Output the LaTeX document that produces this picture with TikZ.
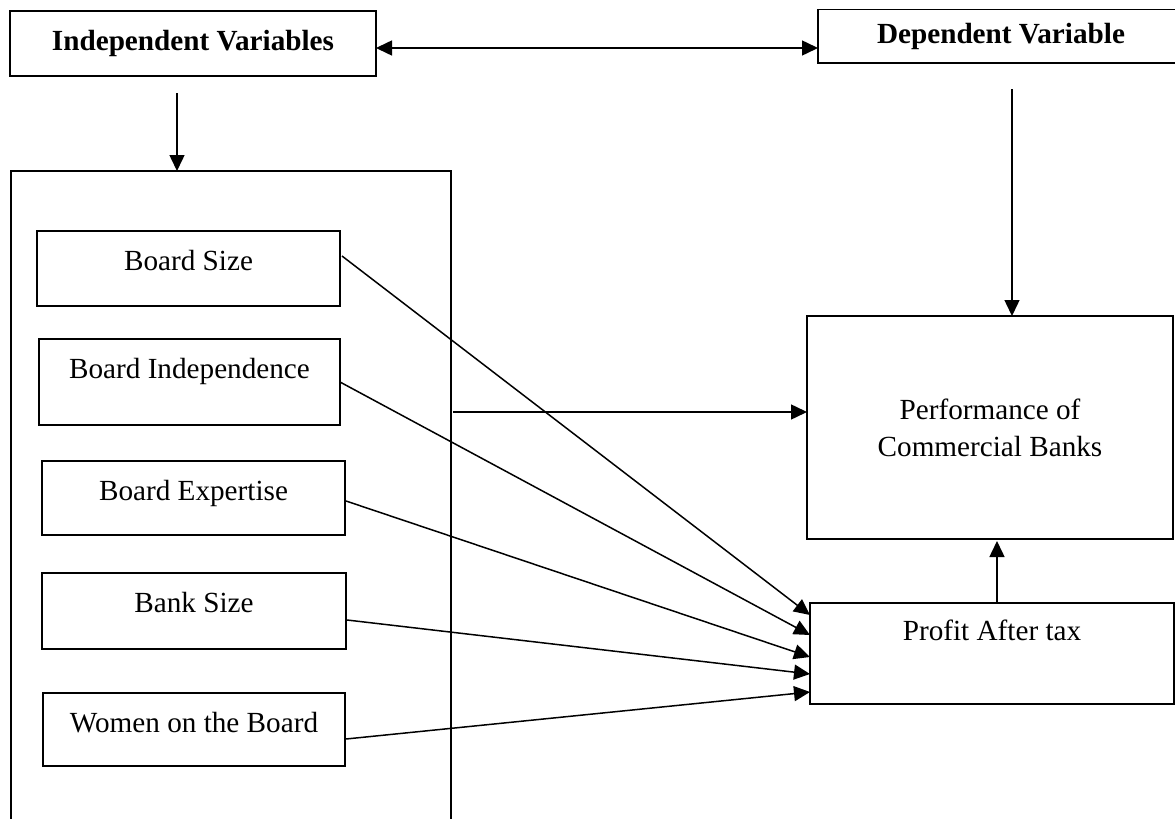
\documentclass[tikz,border=0pt]{standalone}
\usepackage{fontspec}
\setmainfont{Liberation Serif}
\usetikzlibrary{arrows.meta}
\begin{document}
\begin{tikzpicture}[x=0.5pt,y=-0.5pt,
  box/.style={draw=black, line width=0.95pt, inner sep=0pt, outer sep=0pt},
  lbl/.style={inner sep=0pt, anchor=base, font=\fontsize{14.6}{18.5}\selectfont},
  blbl/.style={inner sep=0pt, font=\fontsize{14.6}{18.5}\selectfont\bfseries},
  arr/.style={line width=0.75pt, -{Triangle[length=8pt,width=7.5pt]}},
  biarr/.style={line width=0.75pt, {Triangle[length=8pt,width=7.5pt]}-{Triangle[length=8pt,width=7.5pt]}}]
\useasboundingbox (0,0) rectangle (1175,819);
\fill[white] (0,0) rectangle (1175,819);
% top boxes
\node[box, minimum width=183pt, minimum height=32.5pt] (indep) at (193,43.5) {};
\node[blbl] at (indep.center) {Independent Variables};
\node[box, minimum width=183pt, minimum height=26.75pt] (dep) at (1001,36.25) {};
\node[blbl] at (dep.center) {Dependent Variable};
% big container
\node[box, minimum width=220pt, minimum height=329.5pt] (big) at (231,500.5) {};
% variable boxes
\node[box, minimum width=151.5pt, minimum height=37.5pt] (bs) at (188.5,268.5) {};
\node[lbl] at ([yshift=-19.5pt]bs.north) {Board Size};
\node[box, minimum width=150.5pt, minimum height=43pt] (bi) at (189.5,382) {};
\node[lbl] at ([yshift=-19.5pt]bi.north) {Board Independence};
\node[box, minimum width=151.5pt, minimum height=37pt] (be) at (193.5,498) {};
\node[lbl] at ([yshift=-19.5pt]be.north) {Board Expertise};
\node[box, minimum width=152pt, minimum height=38pt] (bk) at (194,611) {};
\node[lbl] at ([yshift=-19.5pt]bk.north) {Bank Size};
\node[box, minimum width=151pt, minimum height=36.5pt] (wb) at (194,729.5) {};
\node[lbl] at ([yshift=-19.5pt]wb.north) {Women on the Board};
% right boxes
\node[box, minimum width=183pt, minimum height=111.5pt, align=center,
      font=\fontsize{14.6}{18.5}\selectfont] (perf) at (990,427.5)
      {Performance of\\Commercial Banks};
\node[box, minimum width=182pt, minimum height=50.5pt] (pat) at (992,653.5) {};
\node[lbl] at ([yshift=-18.5pt]pat.north) {Profit After tax};
% connectors
\draw[biarr] ([yshift=-2.25pt]indep.east) -- ([yshift=-2.25pt]indep.east -| dep.west);
\coordinate (a1) at (177,93);
\draw[arr] (a1) -- (a1 |- big.north);
\coordinate (d1) at (1012,89);
\draw[arr] (d1) -- (d1 |- perf.north);
\coordinate (h1) at (453,412);
\draw[arr] (h1) -- (h1 -| perf.west);
\draw[arr] ([xshift=2.5pt]pat.north) -- ([xshift=2.5pt,yshift=-1pt]pat.north |- perf.south);
\draw[arr] ([xshift=1pt,yshift=6.25pt]bs.east) -- ([yshift=-6pt]pat.north west);
\draw[arr] (bi.east) -- ([yshift=-16pt]pat.north west);
\draw[arr] ([xshift=0.5pt,yshift=-1.5pt]be.east) -- ([yshift=-27pt]pat.north west);
\draw[arr] ([xshift=0.5pt,yshift=-4.5pt]bk.east) -- ([yshift=-35.5pt]pat.north west);
\draw[arr] ([xshift=0.5pt,yshift=-4.75pt]wb.east) -- ([yshift=-44.5pt]pat.north west);
\end{tikzpicture}
\end{document}
